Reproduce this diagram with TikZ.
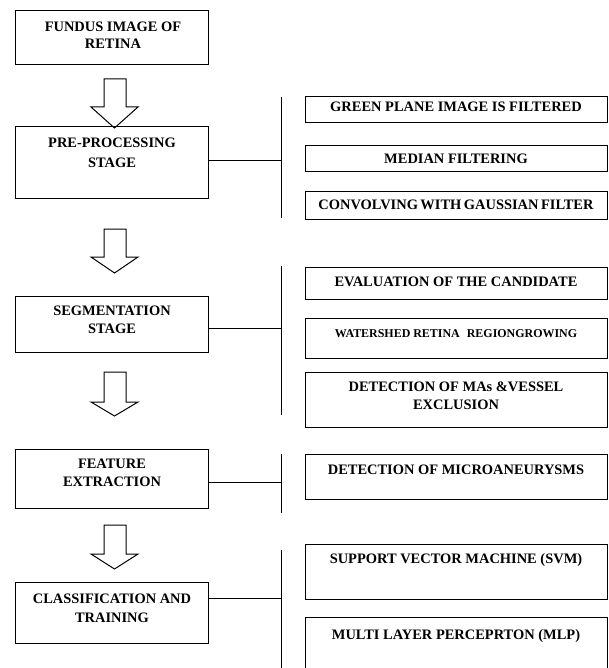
\documentclass[tikz,border=0pt]{standalone}
\usepackage{fontspec}
\setmainfont{Liberation Serif}
\newcommand\blkarrow[3]{\draw[line join=miter] (104,#1) -- (126,#1) -- (126,#2) -- (138,#2) -- (114.5,#3) -- (91,#2) -- (104,#2) -- cycle;}
\begin{document}
\begin{tikzpicture}[x=1bp,y=-1bp,line width=1bp,
  lbox/.style={draw, inner sep=0pt, outer sep=0pt, minimum width=192bp},
  rbox/.style={draw, inner sep=0pt, outer sep=0pt, minimum width=302bp},
  txt/.style={font=\bfseries\fontsize{14.5}{18}\selectfont, align=center, inner sep=0pt, anchor=north}]
\useasboundingbox (0,0) rectangle (609,668);
\clip (0,0) rectangle (609,668);
\fill[white] (0,0) rectangle (609,668);
% left boxes
\node[lbox, minimum height=54bp] (fundus) at (112,38) {};
\node[lbox, minimum height=71bp] (pre) at (112,162.5) {};
\node[lbox, minimum height=56bp] (seg) at (112,324) {};
\node[lbox, minimum height=59bp] (feat) at (112,478.5) {};
\node[lbox, minimum height=61bp] (cls) at (112,612.5) {};
\node[txt, font=\bfseries\fontsize{14.5}{16.5}\selectfont] (fundus-t) at (113,21.7) {FUNDUS IMAGE OF\\RETINA};
\node[txt, font=\bfseries\fontsize{14.5}{21}\selectfont] (pre-t) at (112,137) {PRE-PROCESSING\\STAGE};
\node[txt] (seg-t) at (112,305) {SEGMENTATION\\STAGE};
\node[txt, font=\bfseries\fontsize{14.5}{19}\selectfont] (feat-t) at (112,458) {FEATURE\\EXTRACTION};
\node[txt, font=\bfseries\fontsize{14.5}{19}\selectfont] (cls-t) at (112,593) {CLASSIFICATION AND\\TRAINING};
% block arrows
\blkarrow{79}{107}{128}
\blkarrow{229}{257}{273}
\blkarrow{372}{402}{416}
\blkarrow{525}{554}{569}
% right boxes
\node[rbox, minimum height=25bp] (g1) at (456,109.5) {};
\node[rbox, minimum height=26bp] (g2) at (456,158) {};
\node[rbox, minimum height=28bp] (g3) at (456,205) {};
\node[rbox, minimum height=32bp] (e1) at (456,283) {};
\node[rbox, minimum height=40bp] (e2) at (456,338) {};
\node[rbox, minimum height=55bp] (e3) at (456,399.5) {};
\node[rbox, minimum height=45bp] (f1) at (456,476.5) {};
\node[rbox, minimum height=55bp] (c1) at (456,571.5) {};
\node[rbox, minimum height=83bp] (c2) at (456,658.5) {};
\node[txt] (g1-t) at (456,101.5) {GREEN PLANE IMAGE IS FILTERED};
\node[txt] (g2-t) at (456,153) {MEDIAN FILTERING};
\node[txt] (g3-t) at (456,199) {CONVOLVING\hspace{2.5bp}WITH\hspace{2.5bp}GAUSSIAN\hspace{2.5bp}FILTER};
\node[txt] (e1-t) at (456,276) {EVALUATION OF THE CANDIDATE};
\node[txt, font=\bfseries\fontsize{12}{14}\selectfont] (e2-t) at (456,329) {WATERSHED RETINA\hspace{4bp} REGIONGROWING};
\node[txt] (e3-t) at (456,381) {DETECTION OF MAs \&VESSEL\\EXCLUSION};
\node[txt] (f1-t) at (456,464) {DETECTION OF MICROANEURYSMS};
\node[txt] (c1-t) at (456,552.5) {SUPPORT VECTOR MACHINE (SVM)};
\node[txt] (c2-t) at (456,628.5) {MULTI LAYER PERCEPRTON (MLP)};
% branch lines
\coordinate (v1a) at (281,97);  \coordinate (v1b) at (281,218); \coordinate (h1) at (281,160);
\coordinate (v2a) at (281,266); \coordinate (v2b) at (281,415); \coordinate (h2) at (281,328);
\coordinate (v3a) at (281,454); \coordinate (v3b) at (281,513); \coordinate (h3) at (281,482);
\coordinate (v4a) at (281,550); \coordinate (v4b) at (281,670); \coordinate (h4) at (281,598);
\draw (v1a) -- (v1b); \draw (pre.east |- h1) -- (h1);
\draw (v2a) -- (v2b); \draw (seg.east |- h2) -- (h2);
\draw (v3a) -- (v3b); \draw (feat.east |- h3) -- (h3);
\draw (v4a) -- (v4b); \draw (cls.east |- h4) -- (h4);
\end{tikzpicture}
\end{document}
